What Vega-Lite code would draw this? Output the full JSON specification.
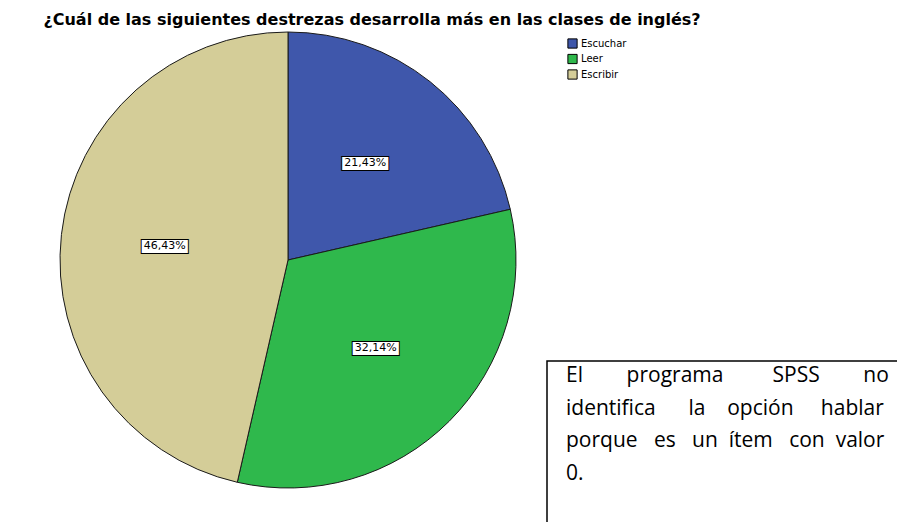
{
  "$schema": "https://vega.github.io/schema/vega-lite/v6.json",
  "width": 897,
  "height": 522,
  "autosize": {"type": "none"},
  "padding": 0,
  "background": "white",
  "config": {"view": {"stroke": null}},
  "layer": [
    {
      "data": {"values": [
        {"destreza": "Escuchar", "porcentaje": 21.43, "orden": 1, "etiqueta": "21,43%"},
        {"destreza": "Leer", "porcentaje": 32.14, "orden": 2, "etiqueta": "32,14%"},
        {"destreza": "Escribir", "porcentaje": 46.43, "orden": 3, "etiqueta": "46,43%"}
      ]},
      "layer": [
        {
          "mark": {"type": "arc", "x": 288, "y": 260, "outerRadius": 228, "stroke": "#1a1a1a", "strokeWidth": 1},
          "encoding": {
            "theta": {"field": "porcentaje", "type": "quantitative", "stack": true},
            "order": {"field": "orden", "type": "quantitative"},
            "color": {
              "field": "destreza", "type": "nominal",
              "scale": {"domain": ["Escuchar", "Leer", "Escribir"], "range": ["#3f57ab", "#2fb84c", "#d4cd98"]},
              "legend": {
                "title": null, "orient": "none", "legendX": 567, "legendY": 38,
                "symbolType": "square", "symbolSize": 85, "symbolStrokeColor": "black", "symbolStrokeWidth": 1,
                "labelFont": "DejaVu Sans", "labelFontSize": 10, "labelColor": "black", "labelOffset": 3,
                "rowPadding": 0.5, "padding": 0
              }
            }
          }
        },
        {
          "mark": {"type": "text", "x": 288, "y": 260, "radius": 124, "text": "—", "font": "DejaVu Sans", "fontSize": 40, "fill": "black", "stroke": "black", "strokeWidth": 12, "strokeJoin": "miter", "baseline": "middle", "align": "center"},
          "encoding": {
            "theta": {"field": "porcentaje", "type": "quantitative", "stack": true},
            "order": {"field": "orden", "type": "quantitative"}
          }
        },
        {
          "mark": {"type": "text", "x": 288, "y": 260, "radius": 124, "text": "—", "font": "DejaVu Sans", "fontSize": 40, "fill": "white", "stroke": "white", "strokeWidth": 10, "strokeJoin": "miter", "baseline": "middle", "align": "center"},
          "encoding": {
            "theta": {"field": "porcentaje", "type": "quantitative", "stack": true},
            "order": {"field": "orden", "type": "quantitative"}
          }
        },
        {
          "mark": {"type": "text", "x": 288, "y": 260, "radius": 124, "font": "DejaVu Sans", "fontSize": 11, "color": "black", "baseline": "middle", "align": "center"},
          "encoding": {
            "theta": {"field": "porcentaje", "type": "quantitative", "stack": true},
            "order": {"field": "orden", "type": "quantitative"},
            "text": {"field": "etiqueta", "type": "nominal"}
          }
        }
      ]
    },
    {
      "data": {"values": [{"titulo": "¿Cuál de las siguientes destrezas desarrolla más en las clases de inglés?"}]},
      "mark": {"type": "text", "x": 372, "y": 20, "font": "DejaVu Sans", "fontWeight": "bold", "fontSize": 16, "color": "black", "align": "center", "baseline": "middle"},
      "encoding": {"text": {"field": "titulo", "type": "nominal"}}
    },
    {
      "data": {"values": [{"nota": "recuadro"}]},
      "mark": {"type": "rect", "x": 547, "y": 361, "x2": 905, "y2": 530, "fill": "white", "stroke": "black", "strokeWidth": 1.5},
      "encoding": {}
    },
    {
      "data": {"values": [{"nota": "El\u00a0\u00a0\u00a0\u00a0\u00a0\u00a0\u00a0\u00a0programa\u00a0\u00a0\u00a0\u00a0\u00a0\u00a0\u00a0\u00a0\u00a0SPSS\u00a0\u00a0\u00a0\u00a0\u00a0\u00a0\u00a0\u00a0no\nidentifica\u00a0\u00a0\u00a0\u00a0\u00a0\u00a0la\u00a0\u00a0\u00a0\u00a0opción\u00a0\u00a0\u00a0\u00a0\u00a0hablar\nporque\u00a0\u00a0\u00a0es\u00a0\u00a0\u00a0un\u00a0\u00a0ítem\u00a0\u00a0\u00a0con\u00a0\u00a0valor\n0."}]},
      "mark": {"type": "text", "x": 566, "y": 382, "font": "Open Sans", "fontSize": 21, "color": "black", "align": "left", "baseline": "alphabetic", "lineBreak": "\n", "lineHeight": 32.5},
      "encoding": {"text": {"field": "nota", "type": "nominal"}}
    }
  ]
}
